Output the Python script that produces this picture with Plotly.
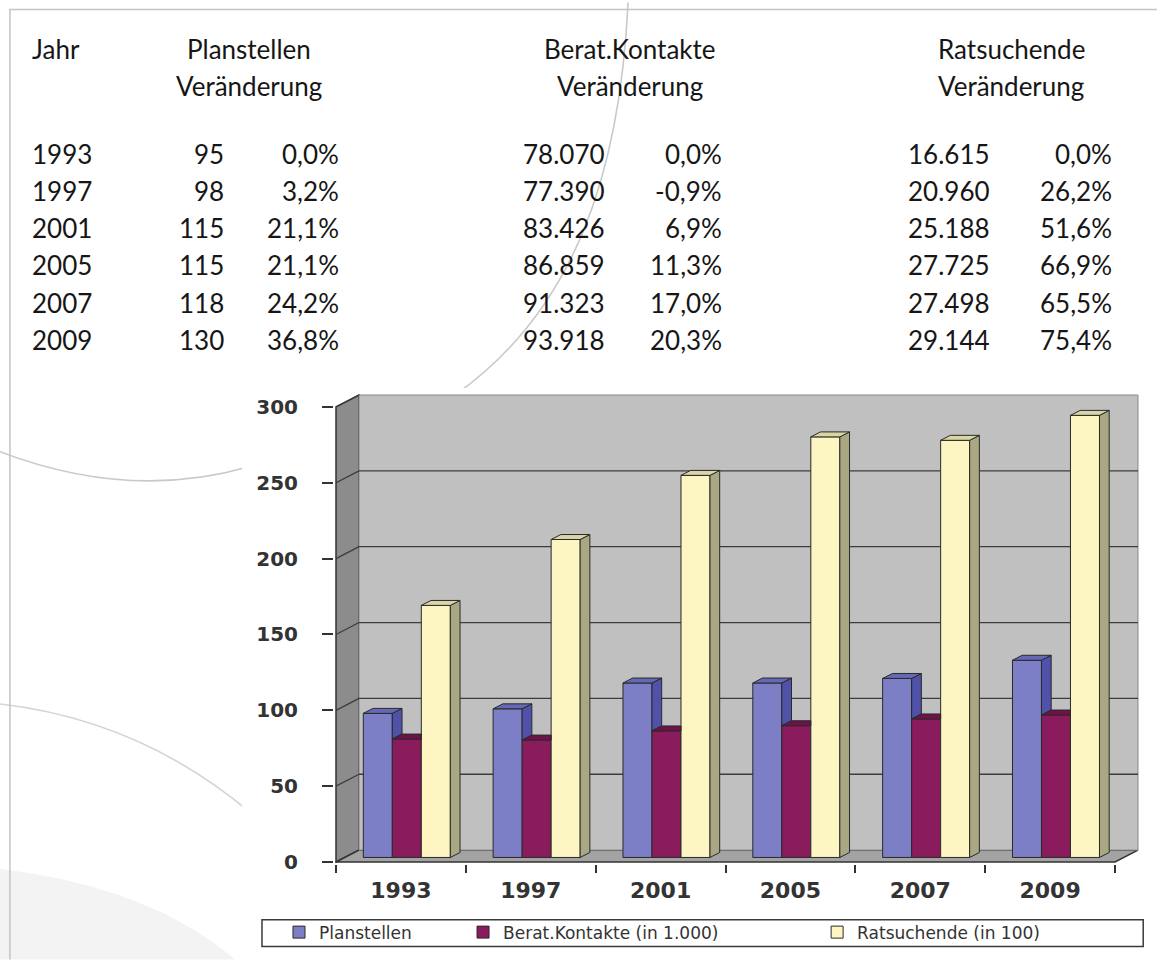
import plotly.graph_objects as go

# ---------------- data ----------------
years = ["1993", "1997", "2001", "2005", "2007", "2009"]
planstellen = [95, 98, 115, 115, 118, 130]
planstellen_pct = [0.0, 3.2, 21.1, 21.1, 24.2, 36.8]
kontakte = [78070, 77390, 83426, 86859, 91323, 93918]
kontakte_pct = [0.0, -0.9, 6.9, 11.3, 17.0, 20.3]
ratsuchende = [16615, 20960, 25188, 27725, 27498, 29144]
ratsuchende_pct = [0.0, 26.2, 51.6, 66.9, 65.5, 75.4]
y_ticks = [0, 50, 100, 150, 200, 250, 300]
series_names = ["Planstellen", "Berat.Kontakte (in 1.000)", "Ratsuchende (in 100)"]
header_top = ["Jahr", "Planstellen", "Berat.Kontakte", "Ratsuchende"]
header_sub = "Veränderung"

chart_values = [
    planstellen,
    [k / 1000 for k in kontakte],
    [r / 100 for r in ratsuchende],
]

# ---------------- geometry ----------------
W, H = 1157, 963
UX, X0PX = 129.8, 336.0      # px per category, pixel of x=-0.5 edge
UY, Y0PX = 1.5267, 865.0     # px per unit, pixel of y=0
D = 23.0 / UX                # wall depth (x units)
E = 12.0 / UY                # wall depth (y units)
n = len(years)
YMAX = y_ticks[-1]

x_lo = -0.5 - 2 / UX
x_hi = n - 0.5 + D + 1 / UX
y_lo = -2 / UY
y_hi = YMAX + E + 1 / UY
L = X0PX + (x_lo + 0.5) * UX
R = W - (X0PX + (x_hi + 0.5) * UX)
B = H - (Y0PX - y_lo * UY)
T = Y0PX - y_hi * UY
PW, PH = W - L - R, H - T - B


def fx(p):
    return (p - L) / PW


def fy(p):
    return (H - B - p) / PH


BW = 29.0 / UX
first_off = -37.6 / UX
offsets = [first_off + k * BW for k in range(3)]
bar_base = 3.0
bd = 9.7 / UX
be = 5.0 / UY

front = ["#7c7fc6", "#8a1b5c", "#fdf6c3"]
side = ["#4f52a8", "#5e0f3e", "#a9a883"]
topc = ["#6568b6", "#6f1249", "#d9d5a5"]
outline = "#2a2a2a"

fig = go.Figure()

legends = ["legend", "legend2", "legend3"]
for k in range(3):
    fig.add_trace(go.Bar(
        x=years, y=chart_values[k], base=[bar_base] * n,
        width=BW, offset=offsets[k], name=series_names[k],
        marker=dict(color=front[k], line=dict(color=outline, width=1)),
        legend=legends[k], xaxis="x", yaxis="y", hoverinfo="skip",
    ))

# 3D faces (side + top) drawn from values on an overlay linear axis
for k in range(3):
    sx, sy, tx, ty = [], [], [], []
    for i in range(n):
        v = chart_values[k][i]
        x0 = i + offsets[k]
        x1 = x0 + BW
        yt = bar_base + v
        nxt = chart_values[k + 1][i] if k < 2 else None
        lo = bar_base + nxt if nxt is not None else bar_base
        if lo < yt:
            sx += [x1, x1, x1 + bd, x1 + bd, x1, None]
            sy += [lo, yt, yt + be, lo + be, lo, None]
        if nxt is not None and nxt > v:
            tx += [x0, x1, x1, x0 + bd, x0, None]
            ty += [yt, yt, yt + be, yt + be, yt, None]
        else:
            tx += [x0, x1, x1 + bd, x0 + bd, x0, None]
            ty += [yt, yt, yt + be, yt + be, yt, None]
    for xs, ys, col in ((sx, sy, side[k]), (tx, ty, topc[k])):
        fig.add_trace(go.Scatter(
            x=xs, y=ys, xaxis="x2", yaxis="y", mode="lines", fill="toself",
            fillcolor=col, line=dict(color=outline, width=1),
            showlegend=False, hoverinfo="skip",
        ))

shapes = []


def ppath(pts, close=False):
    s = "M " + " L ".join(f"{fx(a):.5f},{fy(b):.5f}" for a, b in pts)
    return s + (" Z" if close else "")


# decorative background
shapes.append(dict(type="path", xref="paper", yref="paper", layer="below",
                   path=f"M {fx(0)},{fy(872)} Q {fx(150)},{fy(890)} {fx(235)},{fy(963)} L {fx(0)},{fy(963)} Z",
                   fillcolor="#f3f3f3", line=dict(width=0)))
shapes.append(dict(type="path", xref="paper", yref="paper", layer="below",
                   path=f"M {fx(628)},{fy(0)} C {fx(620)},{fy(170)} {fx(575)},{fy(310)} {fx(455)},{fy(395)}",
                   line=dict(color="#c9c9c9", width=1.6)))
shapes.append(dict(type="path", xref="paper", yref="paper", layer="below",
                   path=f"M {fx(0)},{fy(452)} Q {fx(130)},{fy(502)} {fx(250)},{fy(467)}",
                   line=dict(color="#c9c9c9", width=1.6)))
shapes.append(dict(type="path", xref="paper", yref="paper", layer="below",
                   path=f"M {fx(0)},{fy(706)} Q {fx(140)},{fy(722)} {fx(250)},{fy(815)}",
                   line=dict(color="#d4d4d4", width=1.6)))
shapes.append(dict(type="path", xref="paper", yref="paper", layer="below",
                   path=ppath([(1157, 7), (10, 7), (10, 963)]),
                   line=dict(color="#c4c4c4", width=1.5)))
# chart image white background
shapes.append(dict(type="rect", xref="paper", yref="paper", layer="below",
                   x0=fx(242), x1=fx(1157), y0=fy(388), y1=fy(963),
                   fillcolor="white", line=dict(width=0)))
# legend box
shapes.append(dict(type="rect", xref="paper", yref="paper", layer="below",
                   x0=fx(262), x1=fx(1143), y0=fy(923), y1=fy(950),
                   fillcolor="white", line=dict(color="#3a3a3a", width=1.5)))


def dpath(pts):
    return "M " + " L ".join(f"{a:.5f},{b:.5f}" for a, b in pts) + " Z"


xl, xr = -0.5, n - 0.5
# side wall, floor, back wall
shapes.append(dict(type="path", xref="x2", yref="y", layer="below",
                   path=dpath([(xl, 0), (xl, YMAX), (xl + D, YMAX + E), (xl + D, E)]),
                   fillcolor="#8c8c8c", line=dict(color="#333", width=1.5)))
shapes.append(dict(type="path", xref="x2", yref="y", layer="below",
                   path=dpath([(xl, 0), (xr, 0), (xr + D, E), (xl + D, E)]),
                   fillcolor="#a3a3a3", line=dict(color="#333", width=1.5)))
shapes.append(dict(type="path", xref="x2", yref="y", layer="below",
                   path=dpath([(xl + D, E), (xr + D, E), (xr + D, YMAX + E), (xl + D, YMAX + E)]),
                   fillcolor="#c0c0c0", line=dict(color="#8a8a8a", width=1)))
for v in y_ticks[1:-1]:
    shapes.append(dict(type="line", xref="x2", yref="y", layer="below",
                       x0=xl + D, x1=xr + D, y0=v + E, y1=v + E,
                       line=dict(color="#3c3c3c", width=1.3)))
for v in y_ticks[1:]:
    shapes.append(dict(type="line", xref="x2", yref="y", layer="below",
                       x0=xl, x1=xl + D, y0=v, y1=v + E,
                       line=dict(color="#3c3c3c", width=1.3)))

fig.update_layout(shapes=shapes)

# ---------------- table text ----------------
ann = []
tfont = dict(family="Lato", size=26, color="#161616")


def add(text, x, y, anchor):
    ann.append(dict(text=text, x=fx(x), y=fy(y), xref="paper", yref="paper",
                    xanchor=anchor, yanchor="middle", showarrow=False, font=tfont))


def de_int(v):
    return f"{v:,}".replace(",", ".")


def de_pct(p):
    return f"{p:.1f}%".replace(".", ",")


add(header_top[0], 30, 47, "left")
centers = [249, 630, 1011]
for c, h in zip(centers, header_top[1:]):
    add(h, c, 47, "center")
    add(header_sub, c, 84, "center")

row_y0, row_dy = 152, 37.5
for i, yr in enumerate(years):
    yy = row_y0 + i * row_dy
    add(yr, 30, yy, "left")
    add(str(planstellen[i]), 226, yy, "right")
    add(de_pct(planstellen_pct[i]), 341, yy, "right")
    add(de_int(kontakte[i]), 607, yy, "right")
    add(de_pct(kontakte_pct[i]), 724, yy, "right")
    add(de_int(ratsuchende[i]), 992, yy, "right")
    add(de_pct(ratsuchende_pct[i]), 1114, yy, "right")

fig.update_layout(annotations=ann)

lfont = dict(family="DejaVu Sans", size=17, color="#333333")
leg_x = [279, 463, 817]
leg_common = dict(y=fy(936), xanchor="left", yanchor="middle", orientation="h",
                  bgcolor="rgba(0,0,0,0)", borderwidth=0, font=lfont)

fig.update_layout(
    template="none",
    width=W, height=H,
    margin=dict(l=L, r=R, t=T, b=B, pad=0),
    paper_bgcolor="white", plot_bgcolor="rgba(0,0,0,0)",
    barmode="overlay",
    showlegend=True,
    legend=dict(x=fx(leg_x[0]), **leg_common),
    legend2=dict(x=fx(leg_x[1]), **leg_common),
    legend3=dict(x=fx(leg_x[2]), **leg_common),
    xaxis=dict(type="category", categoryorder="array", categoryarray=years,
               range=[x_lo, x_hi], tickson="boundaries", ticks="outside",
               ticklen=8, tickwidth=1.5, tickcolor="#333", showgrid=False,
               zeroline=False, showline=False, automargin=False,
               ticklabelstandoff=11,
               tickfont=dict(family="DejaVu Sans", size=22, color="#333", weight="bold")),
    xaxis2=dict(overlaying="x", anchor="y", range=[x_lo, x_hi], visible=False),
    yaxis=dict(range=[y_lo, y_hi], tickvals=y_ticks, ticks="outside", ticklen=11,
               tickwidth=1.5, tickcolor="#333", showgrid=False, zeroline=False,
               showline=False, automargin=False, ticklabelstandoff=20,
               tickfont=dict(family="DejaVu Sans", size=20, color="#333", weight="bold")),
)

fig.write_html("out.html")
